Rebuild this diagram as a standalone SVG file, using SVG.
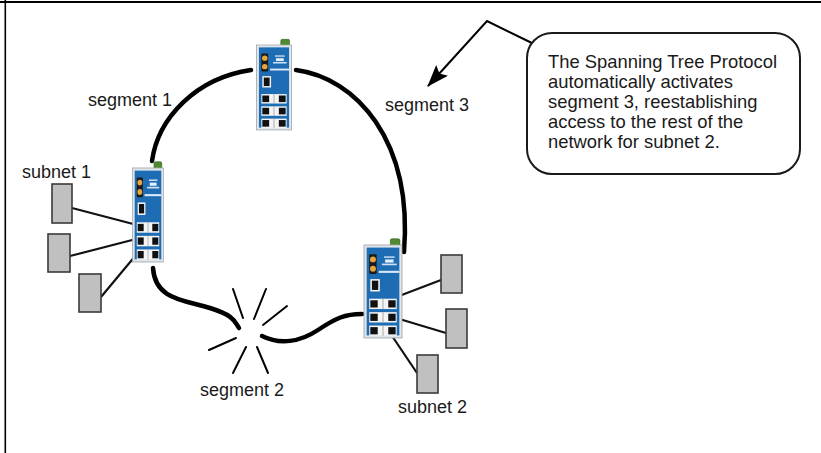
<svg xmlns="http://www.w3.org/2000/svg" xmlns:xlink="http://www.w3.org/1999/xlink" width="821" height="453" viewBox="0 0 821 453">
  <style>
    .lbl { font-family: "Liberation Sans", Arial, sans-serif; font-size: 18px; fill: #1a1a1a; }
    .note { font-size: 18.4px; }
    .seg { fill: none; stroke: #000; stroke-width: 4.5; stroke-linecap: round; }
    .link { fill: none; stroke: #111; stroke-width: 2.2; }
    .host { fill: #c0c0c0; stroke: #3a3a3a; stroke-width: 1.6; }
    .burst { stroke: #000; stroke-width: 2; stroke-linecap: round; }
    .callout { fill: #fff; stroke: #1a1a1a; stroke-width: 2; }
  </style>
  <defs>
    <marker id="arrowHead" markerUnits="userSpaceOnUse" markerWidth="22" markerHeight="16" viewBox="0 0 22 16" refX="21" refY="8" orient="auto">
      <path d="M0,0 L22,8 L0,16 L4,8 Z" fill="#000"/>
    </marker>
    <!-- DIN-rail switch drawn in a 36 x 90 box -->
    <g id="switch">
      <rect x="25" y="-6" width="9" height="8" rx="1.5" fill="#4f8a2f" stroke="#2f5a1a" stroke-width="0.6"/>
      <rect x="0" y="0" width="36" height="90" fill="#e2e6ea" stroke="#9aa3aa" stroke-width="0.8"/>
      <rect x="2.5" y="2.5" width="31" height="85" fill="#1e6db4"/>
      <rect x="5" y="9" width="7" height="19" rx="1" fill="#1a1a1a"/>
      <circle cx="8.5" cy="14" r="2.8" fill="#e9a43c"/>
      <circle cx="8.5" cy="23" r="2.8" fill="#e9a43c"/>
      <rect x="19" y="11" width="10" height="1.4" fill="#cfe2f4"/>
      <rect x="20" y="14" width="8" height="3" fill="#e6f0fa"/>
      <rect x="17" y="18" width="14" height="1.6" fill="#cfe2f4"/>
      <rect x="14" y="25" width="19.5" height="2" fill="#dbe8f5"/>
      <rect x="6" y="33" width="9" height="12" fill="#f2f2f2"/>
      <rect x="7.5" y="34.5" width="6" height="9" fill="#111"/>
      <g id="portRow">
        <rect x="5" y="52" width="26" height="10" fill="#f4f4f4"/>
        <rect x="6" y="53.5" width="7" height="7" fill="#111"/>
        <rect x="23" y="53.5" width="7" height="7" fill="#111"/>
        <rect x="17.6" y="52" width="0.8" height="10" fill="#9a9a9a"/>
      </g>
      <use xlink:href="#portRow" y="13"/>
      <use xlink:href="#portRow" y="26"/>
    </g>
  </defs>

  <!-- page frame -->
  <line x1="0" y1="2" x2="821" y2="2" stroke="#000" stroke-width="2.2"/>
  <line x1="5.3" y1="0" x2="5.3" y2="453" stroke="#000" stroke-width="1.6"/>

  <g id="connectors">
    <!-- ring segments -->
    <path id="segment1" class="seg" d="M152,161 C158,118 196,78 251,70"/>
    <path id="segment3" class="seg" d="M296,70 C356,78 413,140 404,252"/>
    <path id="segment2a" class="seg" d="M153,268 C155,300 185,300 210,308 S234,321 239,328"/>
    <path id="segment2b" class="seg" d="M262,336 C280,345 300,342 318,330 S345,314 362,314"/>
    <!-- host links, subnet 1 -->
    <line class="link" x1="72" y1="208" x2="137" y2="225"/>
    <line class="link" x1="70" y1="256" x2="140" y2="238"/>
    <line class="link" x1="101" y1="297" x2="141" y2="249"/>
    <!-- host links, subnet 2 -->
    <line class="link" x1="441" y1="280" x2="386" y2="301"/>
    <line class="link" x1="446" y1="333" x2="386" y2="315"/>
    <line class="link" x1="417" y1="373" x2="386" y2="327"/>
    <!-- callout pointer -->
    <polyline points="536,45 487,21 428,86" fill="none" stroke="#000" stroke-width="2" marker-end="url(#arrowHead)"/>
  </g>

  <!-- link failure burst on segment 2 -->
  <g id="break">
    <line class="burst" x1="233" y1="289" x2="243" y2="318"/>
    <line class="burst" x1="266" y1="289" x2="254" y2="319"/>
    <line class="burst" x1="287" y1="306" x2="263" y2="325"/>
    <line class="burst" x1="209" y1="350" x2="236" y2="338"/>
    <line class="burst" x1="233" y1="373" x2="246" y2="347"/>
    <line class="burst" x1="268" y1="373" x2="257" y2="347"/>
  </g>

  <g id="switch-top">
    <use xlink:href="#switch" transform="translate(256.5,45) scale(0.972,0.944)"/>
  </g>
  <g id="switch-subnet1">
    <use xlink:href="#switch" transform="translate(132.5,168) scale(0.861,1.044)"/>
  </g>
  <g id="switch-subnet2">
    <use xlink:href="#switch" transform="translate(364,245) scale(1.055,1.033)"/>
  </g>

  <g id="subnet1-hosts">
    <rect class="host" x="52" y="184" width="20" height="39"/>
    <rect class="host" x="48" y="234" width="22" height="38"/>
    <rect class="host" x="79" y="274" width="22" height="38"/>
  </g>
  <g id="subnet2-hosts">
    <rect class="host" x="441" y="255" width="21" height="38"/>
    <rect class="host" x="446" y="309" width="21" height="39"/>
    <rect class="host" x="417" y="355" width="21" height="38"/>
  </g>

  <g id="labels">
    <text class="lbl" x="88" y="106">segment 1</text>
    <text class="lbl" x="385" y="111">segment 3</text>
    <text class="lbl" x="22" y="178">subnet 1</text>
    <text class="lbl" x="200" y="396">segment 2</text>
    <text class="lbl" x="398" y="413">subnet 2</text>
  </g>

  <g id="callout">
    <rect class="callout" x="527" y="33" width="273" height="141" rx="25" ry="25"/>
    <text class="lbl note">
      <tspan x="548" y="68">The Spanning Tree Protocol</tspan>
      <tspan x="548" y="88">automatically activates</tspan>
      <tspan x="548" y="108">segment 3, reestablishing</tspan>
      <tspan x="548" y="128">access to the rest of the</tspan>
      <tspan x="548" y="148">network for subnet 2.</tspan>
    </text>
  </g>
</svg>
